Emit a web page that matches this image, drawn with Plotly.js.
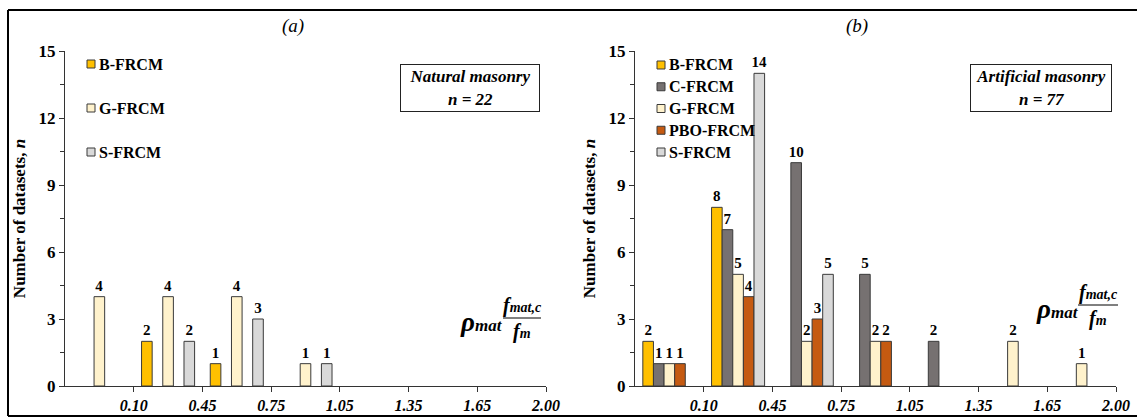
<!DOCTYPE html>
<html>
<head>
<meta charset="utf-8">
<script src="https://cdn.plot.ly/plotly-3.0.1.min.js"></script>
<style>html,body{margin:0;padding:0;background:#fff;}#chart{width:1137px;height:418px;}</style>
</head>
<body>
<div id="chart"></div>
<script>
// ---- data ----
const binLabels = ['0.10', '0.45', '0.75', '1.05', '1.35', '1.65', '2.00'];
const seriesNames = ['B-FRCM', 'C-FRCM', 'G-FRCM', 'PBO-FRCM', 'S-FRCM'];
const seriesColors = ['#FFC000', '#767171', '#FFF2CC', '#C55A11', '#D9D9D9'];

// (a) Natural masonry, n = 22
const natB   = [null, 2, 1, null, null, null, null];
const natC   = [null, null, null, null, null, null, null];
const natG   = [4, 4, 4, 1, null, null, null];
const natPBO = [null, null, null, null, null, null, null];
const natS   = [null, 2, 3, 1, null, null, null];
const natLegend = ['B-FRCM', 'G-FRCM', 'S-FRCM'];

// (b) Artificial masonry, n = 77
const artB   = [2, 8, null, null, null, null, null];
const artC   = [1, 7, 10, 5, 2, null, null];
const artG   = [1, 5, 2, 2, null, 2, 1];
const artPBO = [1, 4, 3, 2, null, null, null];
const artS   = [null, 14, 5, null, null, null, null];
const artLegend = ['B-FRCM', 'C-FRCM', 'G-FRCM', 'PBO-FRCM', 'S-FRCM'];

const panelTitles = ['(a)', '(b)'];
const boxTexts = [['Natural masonry', 'n = 22'], ['Artificial masonry', 'n = 77']];

// ---- helpers ----
const W = 1137, H = 418;
const px = x => x / W;
const py = y => 1 - y / H;
const FONT = '"Times New Roman", "Liberation Serif", "DejaVu Serif", serif';
const binX = binLabels.map((_, i) => i);
const tickX = binLabels.map((_, i) => i + 0.5);

function barTrace(vals, k, xa, ya) {
  return {
    type: 'bar', x: binX, y: vals, xaxis: xa, yaxis: ya,
    name: seriesNames[k], showlegend: false,
    marker: {color: seriesColors[k], line: {color: '#3a3a3a', width: 1}},
    text: vals.map(v => v == null ? '' : String(v)),
    textposition: 'outside', constraintext: 'none', cliponaxis: false,
    textfont: {family: FONT, size: 15, color: '#000', weight: 'bold'},
    hoverinfo: 'skip'
  };
}

const natSets = [natB, natC, natG, natPBO, natS];
const artSets = [artB, artC, artG, artPBO, artS];
const data = [];
natSets.forEach((v, k) => data.push(barTrace(v, k, 'x', 'y')));
artSets.forEach((v, k) => data.push(barTrace(v, k, 'x2', 'y2')));

function xAxis(domain, anchor) {
  return {
    domain: domain, anchor: anchor, range: [-0.5, binLabels.length - 0.5],
    tickmode: 'array', tickvals: tickX, ticktext: binLabels,
    ticks: 'outside', ticklen: 5, tickcolor: '#333', tickwidth: 1,
    showline: true, linecolor: '#333', linewidth: 1,
    showgrid: false, zeroline: false, fixedrange: true,
    tickfont: {family: FONT, size: 16, color: '#000', weight: 'bold', style: 'italic'}
  };
}
function yAxis(domain, anchor) {
  return {
    domain: domain, anchor: anchor, range: [0, 15], dtick: 3, tick0: 0,
    ticks: 'outside', ticklen: 5, tickcolor: '#333', tickwidth: 1,
    minor: {dtick: 1.5, ticks: 'outside', ticklen: 4, tickcolor: '#333'},
    showline: true, linecolor: '#333', linewidth: 1,
    showgrid: false, zeroline: false, fixedrange: true,
    tickfont: {family: FONT, size: 17, color: '#000', weight: 'bold'},
    title: {text: '<b>Number of datasets, <i>n</i></b>', standoff: 8,
            font: {family: FONT, size: 17, color: '#000'}}
  };
}

const yDom = [py(386), py(51)];
const layout = {
  width: W, height: H, margin: {l: 0, r: 0, t: 0, b: 0},
  paper_bgcolor: '#fff', plot_bgcolor: 'rgba(0,0,0,0)',
  font: {family: FONT},
  showlegend: false, barmode: 'group', bargap: 0.228, bargroupgap: 0,
  xaxis: xAxis([px(65), px(546)], 'y'),
  yaxis: yAxis(yDom, 'x'),
  xaxis2: xAxis([px(635), px(1116)], 'y2'),
  yaxis2: yAxis(yDom, 'x2'),
  shapes: [], annotations: []
};

// outer frame
layout.shapes.push({type: 'line', xref: 'paper', yref: 'paper', x0: px(8), x1: 1, y0: py(10), y1: py(10), line: {color: '#000', width: 2}});
layout.shapes.push({type: 'line', xref: 'paper', yref: 'paper', x0: px(8), x1: 1, y0: py(416), y1: py(416), line: {color: '#000', width: 2}});
layout.shapes.push({type: 'line', xref: 'paper', yref: 'paper', x0: px(8), x1: px(8), y0: py(10), y1: py(416), line: {color: '#000', width: 2}});

// panel specific decorations
const panels = [
  {off: 0, legend: natLegend, legTop: 64, legBot: 152, box: [470, 88, 140],
   rho: [458, 322], frac: [503, 541, 318], title: 293},
  {off: 570, legend: artLegend, legTop: 65, legBot: 152, box: [1041, 88, 142],
   rho: [1034, 309], frac: [1078, 1118, 305], title: 857}
];

panels.forEach((p, pi) => {
  // title
  layout.annotations.push({xref: 'paper', yref: 'paper', x: px(p.title), y: py(26),
    text: '<i>' + panelTitles[pi] + '</i>', showarrow: false, xanchor: 'center', yanchor: 'middle',
    font: {family: FONT, size: 19, color: '#000'}});
  // legend
  const n = p.legend.length;
  p.legend.forEach((name, j) => {
    const k = seriesNames.indexOf(name);
    const yc = p.legTop + (p.legBot - p.legTop) * j / (n - 1);
    const sx = 87 + p.off;
    layout.shapes.push({type: 'rect', xref: 'paper', yref: 'paper',
      x0: px(sx), x1: px(sx + 8), y0: py(yc - 4), y1: py(yc + 4),
      fillcolor: seriesColors[k], line: {color: '#3a3a3a', width: 1}});
    layout.annotations.push({xref: 'paper', yref: 'paper', x: px(sx + 10), y: py(yc),
      text: '<b>' + name + '</b>', showarrow: false, xanchor: 'left', yanchor: 'middle',
      font: {family: FONT, size: 16, color: '#000'}});
  });
  // box annotation
  layout.annotations.push({xref: 'paper', yref: 'paper', x: px(p.box[0]), y: py(p.box[1]),
    text: '<b><i>' + boxTexts[pi][0] + '</i></b><br><b><i>' + boxTexts[pi][1] + '</i></b>',
    showarrow: false, xanchor: 'center', yanchor: 'middle', align: 'center',
    width: p.box[2] - 4, height: 44, borderpad: 1, bordercolor: '#222', borderwidth: 1,
    bgcolor: '#fff', font: {family: FONT, size: 17, color: '#000'}});
  // formula: rho_mat * f_mat,c / f_m
  layout.annotations.push({xref: 'paper', yref: 'paper', x: px(p.rho[0]), y: py(p.rho[1]),
    text: '<b><i>ρ</i></b><span style="font-size:17px"><b><i>mat</i></b></span>',
    showarrow: false, xanchor: 'left', yanchor: 'middle',
    font: {family: FONT, size: 27, color: '#000'}});
  const fx = (p.frac[0] + p.frac[1]) / 2;
  layout.annotations.push({xref: 'paper', yref: 'paper', x: px(fx), y: py(p.frac[2] - 0.5),
    text: '<b><i>f<span style="font-size:14px">mat,c</span></i></b>',
    showarrow: false, xanchor: 'center', yanchor: 'bottom', borderpad: 0,
    font: {family: FONT, size: 20, color: '#000'}});
  layout.shapes.push({type: 'line', xref: 'paper', yref: 'paper', x0: px(p.frac[0]), x1: px(p.frac[1]),
    y0: py(p.frac[2]), y1: py(p.frac[2]), line: {color: '#000', width: 1}});
  layout.annotations.push({xref: 'paper', yref: 'paper', x: px(fx), y: py(p.frac[2] + 1),
    text: '<b><i>f<span style="font-size:14px">m</span></i></b>',
    showarrow: false, xanchor: 'center', yanchor: 'top', borderpad: 0,
    font: {family: FONT, size: 20, color: '#000'}});
});

Plotly.newPlot('chart', data, layout, {staticPlot: true, displayModeBar: false});
</script>
</body>
</html>
